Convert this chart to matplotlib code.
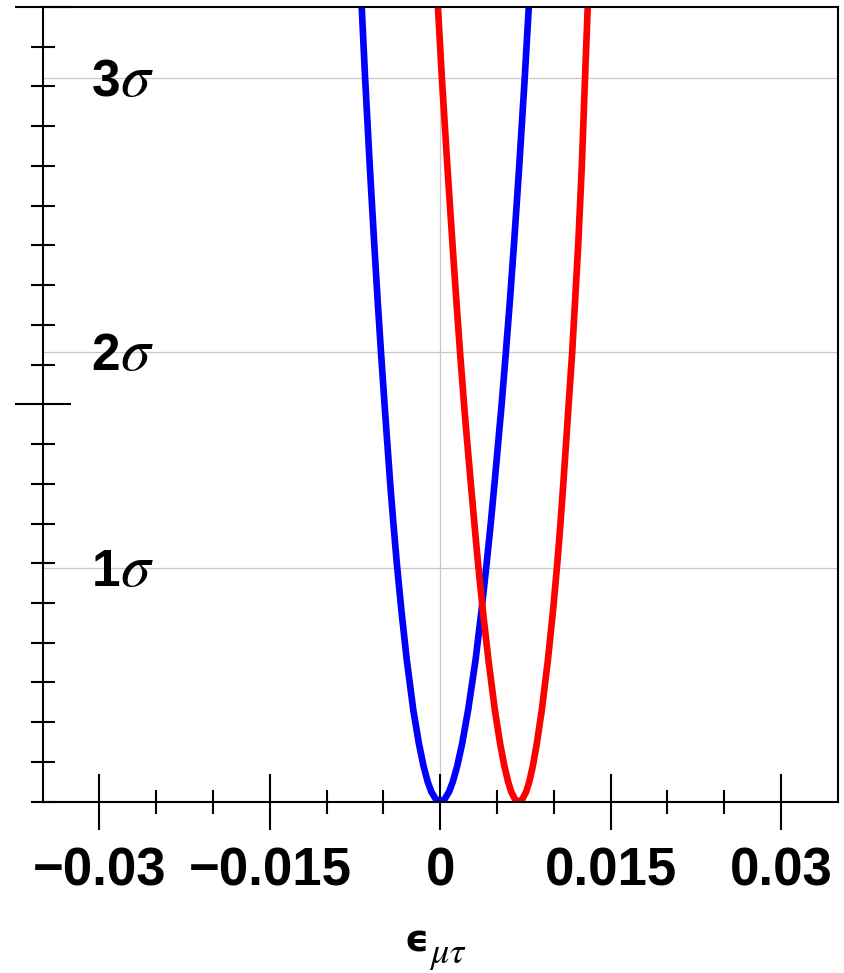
import matplotlib
matplotlib.use("Agg")
import matplotlib.pyplot as plt
from matplotlib.ticker import FixedLocator, FixedFormatter, NullFormatter
import numpy as np

plt.rcParams['font.family'] = ['Liberation Sans', 'DejaVu Sans']
plt.rcParams['mathtext.fontset'] = 'stix'

# ---- data ----
# x values in units of 1e-3 (epsilon_mu_tau), y = delta chi^2
blue_x = [-6.91, -6.61, -6.20, -5.80, -5.51, -5.21, -4.90, -4.72, -4.40, -4.12, -3.82, -3.42, -2.94,
          -2.37, -1.88, -1.47, -1.10, -0.78, -0.38, 0.0,
          0.38, 0.78, 1.11, 1.50, 1.94, 2.46, 3.11, 3.64, 4.09, 4.45, 4.78, 5.18, 5.41, 5.78,
          6.14, 6.49, 6.96, 7.44, 7.80]
blue_y = [20.0, 18.2, 16.0, 14.0, 12.62, 11.3, 10.0, 9.27, 8.0, 7.0, 6.0, 4.82, 3.56,
          2.31, 1.47, 0.9, 0.5, 0.25, 0.06, 0.0,
          0.06, 0.25, 0.5, 0.9, 1.47, 2.31, 3.56, 4.82, 6.0, 7.0, 8.0, 9.27, 10.0, 11.3,
          12.62, 14.0, 16.0, 18.2, 20.0]
red_x = [-0.20, 0.15, 0.63, 1.09, 1.42, 1.75, 2.10, 2.31, 2.70, 3.01, 3.33, 3.75, 4.25,
         4.81, 5.27, 5.65, 5.98, 6.25, 6.59, 6.91,
         7.23, 7.57, 7.84, 8.16, 8.51, 8.95, 9.48, 9.94, 10.31, 10.59, 10.84, 11.14, 11.31, 11.62,
         11.88, 12.15, 12.47, 12.75, 12.99]
red_y = [20.0, 18.2, 16.0, 14.0, 12.62, 11.3, 10.0, 9.27, 8.0, 7.0, 6.0, 4.82, 3.56,
         2.31, 1.47, 0.9, 0.5, 0.25, 0.06, 0.0,
         0.06, 0.25, 0.5, 0.9, 1.47, 2.31, 3.56, 4.82, 6.0, 7.0, 8.0, 9.27, 10.0, 11.3,
         12.62, 14.0, 16.0, 18.2, 20.0]

sigma_levels = [5.89, 11.31, 18.21]
sigma_labels = ['1', '2', '3']
xtick_vals = [-0.03, -0.015, 0.0, 0.015, 0.03]
xtick_labels = ['\u22120.03', '\u22120.015', '0', '0.015', '0.03']
xminor_vals = [-0.025, -0.02, -0.01, -0.005, 0.005, 0.01, 0.02, 0.025]
ymajor_vals = [10, 20]
yminor_vals = [0, 1, 2, 3, 4, 5, 6, 7, 8, 9, 11, 12, 13, 14, 15, 16, 17, 18, 19]

W, H = 845, 973
fig = plt.figure(figsize=(W / 100, H / 100), dpi=100)
ax = fig.add_axes([42.7 / W, (H - 801.7) / H, (837.7 - 42.7) / W, (801.7 - 7) / H])

ax.set_xlim(-0.035, 0.035)
ax.set_ylim(0, 20)

# grid lines
for lv in sigma_levels:
    ax.axhline(lv, color='#c8c8c8', lw=0.9, zorder=1)
ax.axvline(0, color='#c8c8c8', lw=0.9, zorder=1)

# curves
ax.plot(np.array(blue_x) * 1e-3, blue_y, color='#0000ff', lw=4.8,
        solid_joinstyle='round', solid_capstyle='butt', zorder=3)
ax.plot(np.array(red_x) * 1e-3, red_y, color='#ff0000', lw=4.8,
        solid_joinstyle='round', solid_capstyle='butt', zorder=3)

# spines
for s in ax.spines.values():
    s.set_linewidth(1.5)
    s.set_color('black')
    s.set_zorder(4)

# ticks
ax.xaxis.set_major_locator(FixedLocator(xtick_vals))
ax.xaxis.set_major_formatter(FixedFormatter(xtick_labels))
ax.xaxis.set_minor_locator(FixedLocator(xminor_vals))
ax.yaxis.set_major_locator(FixedLocator(ymajor_vals))
ax.yaxis.set_minor_locator(FixedLocator(yminor_vals))
ax.yaxis.set_major_formatter(NullFormatter())
ax.yaxis.set_minor_formatter(NullFormatter())

ax.tick_params(which='major', direction='inout', length=40.3, width=1.5, color='black')
ax.tick_params(which='minor', direction='inout', length=17.3, width=1.5, color='black')
ax.tick_params(axis='x', which='major', pad=12, labelsize=38)
for lab in ax.get_xticklabels():
    lab.set_fontweight('bold')
ax.tick_params(top=False, right=False, which='both')

# sigma labels: bold digit + italic serif sigma
for lv, lab in zip(sigma_levels, sigma_labels):
    ax.annotate(lab, xy=(-0.0307, lv), xycoords='data',
                xytext=(0, -18), textcoords='offset pixels',
                ha='left', va='baseline', fontsize=37, fontweight='bold', zorder=5)
    ax.annotate(r'$\sigma$', xy=(-0.0307, lv), xycoords='data',
                xytext=(28, -18), textcoords='offset pixels',
                ha='left', va='baseline', fontsize=43, zorder=5)

# x label: bold lunate epsilon with italic subscript
fig.text(417 / W, (H - 952) / H, '\u03f5', ha='center', va='baseline',
         fontsize=27, fontweight='bold', family=['DejaVu Sans'])
fig.text(429 / W, (H - 963) / H, r'$\mu\tau$', ha='left', va='baseline', fontsize=26)

fig.savefig('out.png', dpi=100, facecolor='white')
